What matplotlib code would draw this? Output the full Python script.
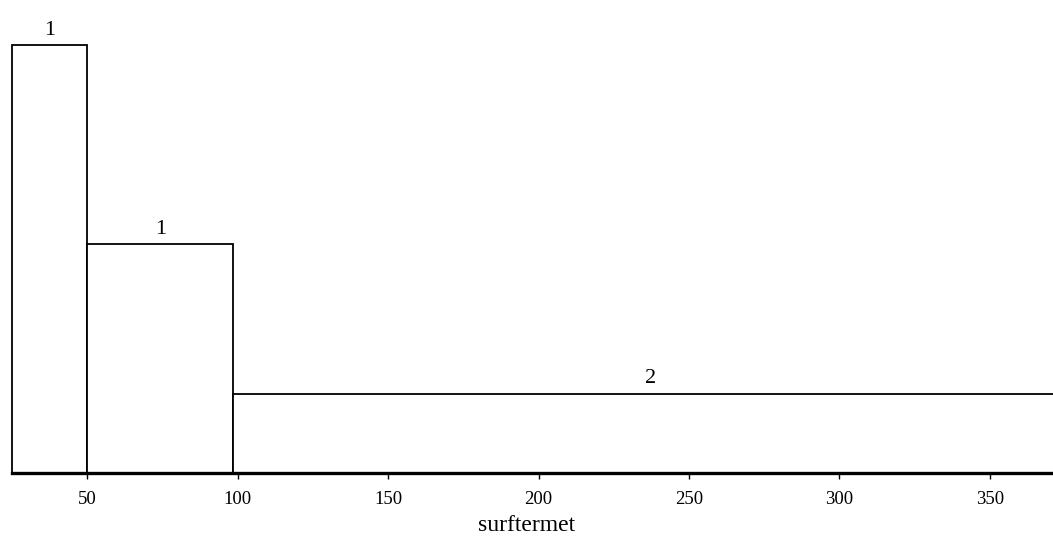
import numpy as np
import matplotlib.pyplot as plt

# bin edges and counts
bin_edges = [25, 50, 98.5, 382]
counts = [1, 1, 2]
# bar heights (density-like units)
heights = [0.0400, 0.0214, 0.0074]
xticks = [50, 100, 150, 200, 250, 300, 350]

plt.rcParams['font.family'] = ['Liberation Serif', 'DejaVu Serif']

fig = plt.figure(figsize=(10.53, 5.43), dpi=100)
ax = fig.add_axes([0, 70 / 543, 1, 473 / 543])

lefts = np.array(bin_edges[:-1])
widths = np.diff(bin_edges)
ax.bar(lefts, heights, width=widths, align='edge', facecolor='white',
       edgecolor='black', linewidth=1.3)

# count labels above each bar
for left, w, h, c in zip(lefts, widths, heights, counts):
    xc = left + w / 2
    if left + w > 371:
        xc = (left + 376) / 2
    ax.text(xc, h + 0.0005, str(c), ha='center', va='bottom', fontsize=16)

ax.set_xlim(21, 371)
ax.set_ylim(0, 0.0442)
ax.set_xticks(xticks)
ax.set_yticks([])
for side in ['left', 'right', 'top']:
    ax.spines[side].set_visible(False)
ax.spines['bottom'].set_linewidth(2.4)
ax.spines['bottom'].set_bounds(25, 371)
ax.tick_params(axis='x', direction='out', length=4, width=1, labelsize=13.5, pad=9)
ax.set_xlabel('surftermet', fontsize=17, labelpad=5)

fig.savefig('out.png', dpi=100)
